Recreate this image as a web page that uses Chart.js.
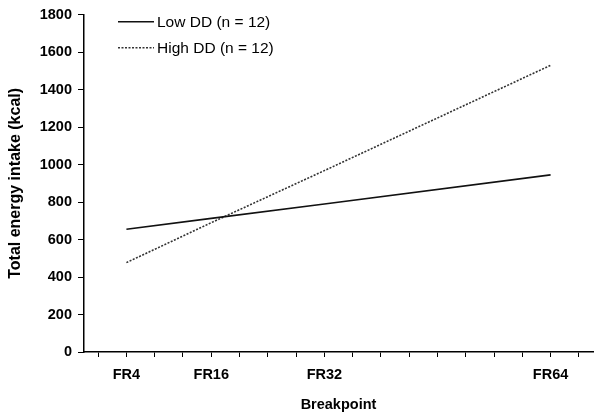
<!DOCTYPE html>
<html>
<head>
<meta charset="utf-8">
<script src="https://cdn.jsdelivr.net/npm/chart.js@4.4.1/dist/chart.umd.min.js"></script>
<style>
    html, body { margin: 0; padding: 0; background: #fff; }
    #wrap { width: 600px; height: 418px; }
</style>
</head>
<body>
<div id="wrap"><canvas id="energyChart"></canvas></div>
<script>
const breakpoints = ['FR4', 'FR16', 'FR32', 'FR64'];
const ratioValues = [4, 16, 32, 64];
const lowDD = [655, 713, 790, 945];
const highDD = [477, 690, 968, 1530];
const yTicks = [0, 200, 400, 600, 800, 1000, 1200, 1400, 1600, 1800];
const xMinorTicks = [0, 4, 8, 12, 16, 20, 24, 28, 32, 36, 40, 44, 48, 52, 56, 60, 64, 68];
const seriesNames = ['Low DD (n = 12)', 'High DD (n = 12)'];

const fontFamily = '"Liberation Sans", Arial, sans-serif';

// Legend sits inside the plot, top left, like the original
const insideLegend = {
    id: 'insideLegend',
    afterDatasetsDraw(chart) {
        const ctx = chart.ctx;
        const area = chart.chartArea;
        ctx.save();
        ctx.font = '15.5px ' + fontFamily;
        ctx.fillStyle = '#000';
        ctx.textBaseline = 'middle';
        chart.data.datasets.forEach((ds, i) => {
            const y = area.top + 7 + i * 26;
            const x0 = area.left + 34;
            ctx.beginPath();
            ctx.strokeStyle = ds.borderColor;
            ctx.lineWidth = ds.borderWidth;
            ctx.setLineDash(ds.borderDash || []);
            ctx.moveTo(x0, y);
            ctx.lineTo(x0 + 36, y);
            ctx.stroke();
            ctx.setLineDash([]);
            ctx.fillText(ds.label, x0 + 39, y + 1);
        });
        ctx.restore();
    }
};

const ctx = document.getElementById('energyChart').getContext('2d');
new Chart(ctx, {
    type: 'line',
    data: {
        datasets: [{
            label: seriesNames[0],
            data: ratioValues.map((v, i) => ({ x: v, y: lowDD[i] })),
            borderColor: '#111',
            borderWidth: 1.6,
            pointRadius: 0,
            tension: 0
        }, {
            label: seriesNames[1],
            data: ratioValues.map((v, i) => ({ x: v, y: highDD[i] })),
            borderColor: '#333',
            borderWidth: 1.6,
            borderDash: [2, 1.5],
            pointRadius: 0,
            tension: 0
        }]
    },
    options: {
        responsive: true,
        maintainAspectRatio: false,
        animation: false,
        layout: { padding: { top: 9, right: 7, left: 0, bottom: 0 } },
        plugins: {
            legend: { display: false },
            tooltip: { enabled: false }
        },
        scales: {
            x: {
                type: 'linear',
                min: -2,
                max: 70,
                afterBuildTicks: (scale) => {
                    scale.ticks = xMinorTicks.map(v => ({ value: v }));
                },
                afterFit: (scale) => { scale.height = 66; },
                ticks: {
                    autoSkip: false,
                    maxRotation: 0,
                    padding: 9,
                    color: '#000',
                    font: { family: fontFamily, size: 14.5, weight: 'bold' },
                    callback: (v) => {
                        const i = ratioValues.indexOf(v);
                        return i >= 0 ? breakpoints[i] : '';
                    }
                },
                grid: { drawOnChartArea: false, drawTicks: true, tickLength: 5, color: '#000' },
                border: { display: true, color: '#000', width: 1.5 },
                title: {
                    display: true,
                    text: 'Breakpoint',
                    color: '#000',
                    padding: { top: 6 },
                    font: { family: fontFamily, size: 14.5, weight: 'bold' }
                }
            },
            y: {
                min: 0,
                max: 1800,
                afterBuildTicks: (scale) => {
                    scale.ticks = yTicks.map(v => ({ value: v }));
                },
                afterFit: (scale) => { scale.width = 84; },
                ticks: {
                    padding: 6,
                    color: '#000',
                    font: { family: fontFamily, size: 14.5, weight: 'bold' },
                    callback: (v) => String(v)
                },
                grid: { drawOnChartArea: false, drawTicks: true, tickLength: 6, color: '#000' },
                border: { display: true, color: '#000', width: 1.5 },
                title: {
                    display: true,
                    text: 'Total energy intake (kcal)',
                    color: '#000',
                    padding: { top: 6, bottom: 4 },
                    font: { family: fontFamily, size: 16, weight: 'bold' }
                }
            }
        }
    },
    plugins: [insideLegend]
});
</script>
</body>
</html>
